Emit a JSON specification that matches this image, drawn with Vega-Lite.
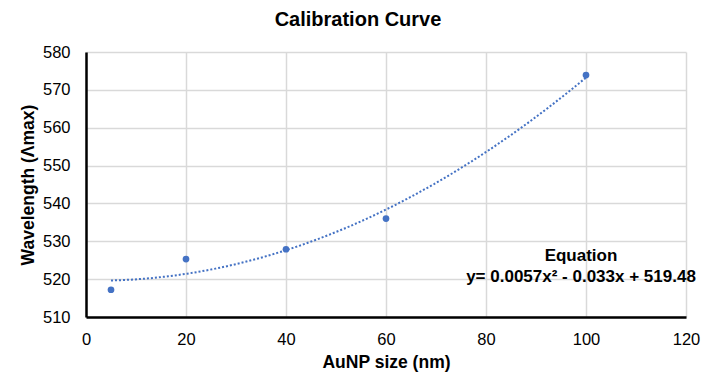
{
  "$schema": "https://vega.github.io/schema/vega-lite/v6.json",
  "width": 600,
  "height": 265,
  "autosize": {"type": "none"},
  "padding": {"left": 86, "top": 52, "right": 30, "bottom": 73},
  "background": "white",
  "title": {
    "text": "Calibration Curve",
    "font": "Liberation Sans",
    "fontSize": 20,
    "fontWeight": "bold",
    "color": "#000000",
    "anchor": "middle",
    "dx": -28,
    "offset": 14
  },
  "data": {
    "values": [
      {"x": 5, "y": 517.2},
      {"x": 20, "y": 525.3},
      {"x": 40, "y": 527.9},
      {"x": 60, "y": 536.0},
      {"x": 100, "y": 573.9}
    ]
  },
  "config": {
    "view": {"stroke": null},
    "font": "Liberation Sans",
    "axis": {
      "labelFont": "Liberation Sans",
      "labelFontSize": 16.5,
      "labelColor": "#000000",
      "labelOverlap": false,
      "labelFlush": false,
      "titleFont": "Liberation Sans",
      "titleFontSize": 17.5,
      "titleFontWeight": "bold",
      "titleColor": "#000000",
      "gridColor": "#D9D9D9",
      "gridWidth": 1.5,
      "domainColor": "#000000",
      "domainWidth": 2.5,
      "ticks": false
    }
  },
  "encoding": {
    "x": {
      "field": "x",
      "type": "quantitative",
      "scale": {"domain": [0, 120], "nice": false},
      "axis": {"values": [0, 20, 40, 60, 80, 100, 120], "title": "AuNP size (nm)", "labelPadding": 14, "titlePadding": 6}
    },
    "y": {
      "field": "y",
      "type": "quantitative",
      "scale": {"domain": [510, 580], "nice": false, "zero": false},
      "axis": {"values": [510, 520, 530, 540, 550, 560, 570, 580], "title": "Wavelength (Λmax)", "labelPadding": 16, "titlePadding": 5}
    }
  },
  "layer": [
    {
      "mark": {"type": "point", "filled": true, "color": "#4472C4", "size": 45, "opacity": 1}
    },
    {
      "transform": [
        {"regression": "y", "on": "x", "method": "poly", "order": 2, "extent": [5, 100]}
      ],
      "mark": {"type": "line", "color": "#4472C4", "strokeWidth": 2, "strokeDash": [2, 2]}
    },
    {
      "data": {"values": [{"x": 99, "y": 526, "label": "Equation"}, {"x": 99, "y": 520.6, "label": "y= 0.0057x² - 0.033x + 519.48"}]},
      "mark": {"type": "text", "font": "Liberation Sans", "fontSize": 17, "fontWeight": "bold", "color": "#000000", "align": "center", "baseline": "middle"},
      "encoding": {
        "text": {"field": "label", "type": "nominal"}
      }
    }
  ]
}
